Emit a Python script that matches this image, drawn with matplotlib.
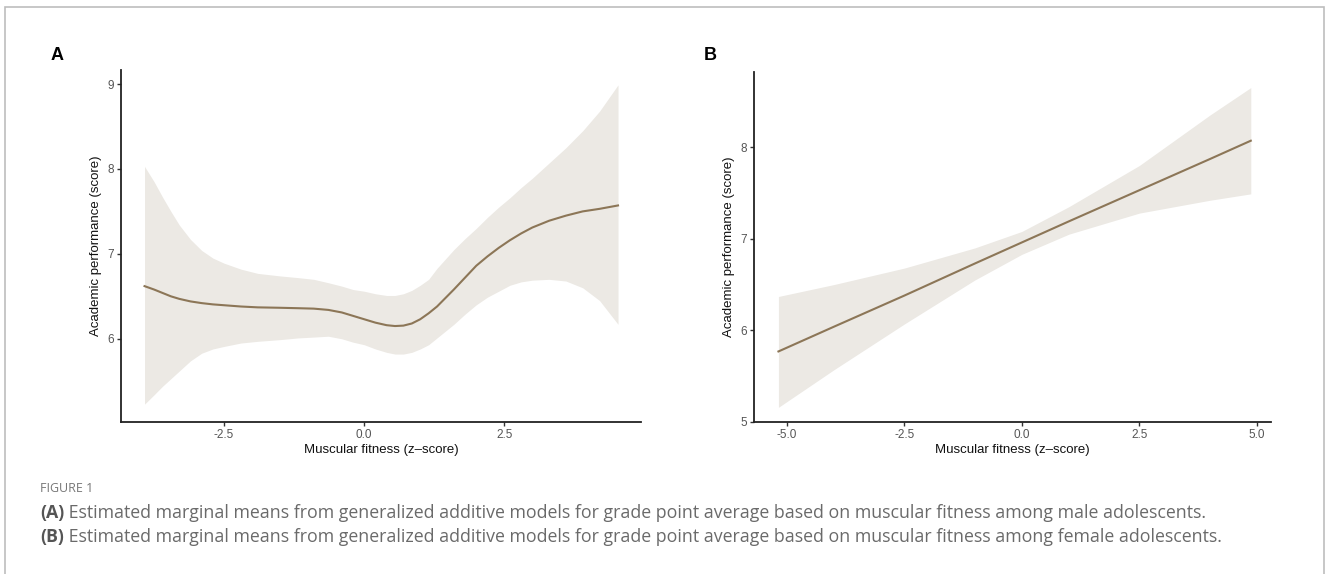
import numpy as np
import matplotlib
matplotlib.use("Agg")
import matplotlib.pyplot as plt
from matplotlib.patches import Rectangle

# Panel A: male adolescents (GAM smooth)
xa = [-3.92, -3.75, -3.6, -3.45, -3.3, -3.1, -2.9, -2.7, -2.5, -2.2, -1.9, -1.5,
      -1.18, -0.9, -0.64, -0.4, -0.2, 0.0, 0.2, 0.4, 0.55, 0.7, 0.85, 1.0, 1.15,
      1.3, 1.45, 1.6, 1.8, 2.0, 2.2, 2.4, 2.6, 2.8, 3.0, 3.3, 3.6, 3.9, 4.2, 4.53]
fit_a = [6.62, 6.58, 6.54, 6.50, 6.47, 6.44, 6.42, 6.405, 6.395, 6.38, 6.37, 6.365,
         6.36, 6.355, 6.34, 6.31, 6.27, 6.23, 6.19, 6.16, 6.15, 6.155, 6.18, 6.23, 6.30,
         6.38, 6.48, 6.58, 6.72, 6.86, 6.97, 7.07, 7.16, 7.24, 7.31, 7.39, 7.45, 7.50, 7.53, 7.57]
upper_a = [8.03, 7.85, 7.67, 7.50, 7.34, 7.17, 7.04, 6.95, 6.89, 6.82, 6.77, 6.74,
           6.72, 6.70, 6.66, 6.62, 6.58, 6.56, 6.53, 6.51, 6.51, 6.53, 6.57, 6.63, 6.70,
           6.83, 6.94, 7.05, 7.18, 7.30, 7.43, 7.55, 7.66, 7.78, 7.89, 8.07, 8.25, 8.45, 8.68, 8.99]
lower_a = [5.23, 5.34, 5.44, 5.53, 5.62, 5.74, 5.83, 5.88, 5.91, 5.95, 5.97, 5.99,
           6.01, 6.02, 6.03, 6.00, 5.96, 5.93, 5.88, 5.84, 5.82, 5.82, 5.84, 5.88, 5.93,
           6.01, 6.09, 6.17, 6.29, 6.40, 6.49, 6.56, 6.63, 6.67, 6.69, 6.70, 6.68, 6.60, 6.45, 6.17]

# Panel B: female adolescents (linear)
xb = [-5.18, -4.0, -2.5, -1.0, 0.0, 1.0, 2.5, 4.0, 4.87]
fit_b = [5.77, 6.04, 6.38, 6.73, 6.96, 7.19, 7.53, 7.87, 8.07]
upper_b = [6.37, 6.50, 6.68, 6.90, 7.08, 7.35, 7.80, 8.35, 8.65]
lower_b = [5.16, 5.57, 6.07, 6.55, 6.83, 7.05, 7.28, 7.42, 7.49]

xticks_a = [-2.5, 0.0, 2.5]
yticks_a = [6, 7, 8, 9]
xticks_b = [-5.0, -2.5, 0.0, 2.5, 5.0]
yticks_b = [5, 6, 7, 8]

band_col = "#ECE9E4"
line_col = "#8C7657"
chart_font = ["Liberation Sans Narrow", "Liberation Sans", "DejaVu Sans"]

W, H = 1330, 574
fig = plt.figure(figsize=(W / 100, H / 100), dpi=100)

# outer frame
fig.patches.append(Rectangle((5 / W, -0.05), (1324 - 5) / W, 1.05 - 7 / H,
                             transform=fig.transFigure, fill=False,
                             edgecolor="#bdbdbd", linewidth=1.2))


def make_panel(rect, x, fit, lo, hi, xlim, ylim, xt, yt):
    ax = fig.add_axes(rect)
    ax.fill_between(x, lo, hi, color=band_col, linewidth=0)
    ax.plot(x, fit, color=line_col, linewidth=1.5)
    ax.set_xlim(*xlim)
    ax.set_ylim(*ylim)
    ax.set_xticks(xt)
    ax.set_xticklabels([f"{v:.1f}" for v in xt])
    ax.set_yticks(yt)
    ax.set_yticklabels([str(v) for v in yt])
    for s in ["top", "right"]:
        ax.spines[s].set_visible(False)
    for s in ["left", "bottom"]:
        ax.spines[s].set_linewidth(1.3)
        ax.spines[s].set_color("#222222")
    ax.tick_params(length=3, width=1, color="#333333", labelcolor="#555555",
                   labelsize=8.5, pad=2)
    for lab in ax.get_xticklabels() + ax.get_yticklabels():
        lab.set_family(chart_font)
    ax.set_xlabel("Muscular fitness (z\u2013score)", fontsize=9.5, family=chart_font,
                  labelpad=2, color="#111111")
    ax.set_ylabel("Academic performance (score)", fontsize=9.5, family=chart_font,
                  labelpad=4, color="#111111")
    return ax


make_panel([121 / W, 1 - 422 / H, 520 / W, 352 / H], xa, fit_a, lower_a, upper_a,
           (-4.34, 4.94), (5.02, 9.165), xticks_a, yticks_a)
make_panel([754 / W, 1 - 422 / H, 517 / W, 350 / H], xb, fit_b, lower_b, upper_b,
           (-5.70, 5.30), (5.0, 8.82), xticks_b, yticks_b)

fig.text(51 / W, 1 - 55 / H, "A", fontsize=13, fontweight="bold", va="center",
         family=["Liberation Sans", "DejaVu Sans"])
fig.text(704 / W, 1 - 55 / H, "B", fontsize=13, fontweight="bold", va="center",
         family=["Liberation Sans", "DejaVu Sans"])

# caption
cap_font = ["Open Sans", "DejaVu Sans"]
fig.text(40 / W, 1 - 489 / H, "FIGURE 1", fontsize=9, color="#777777",
         va="center", family=cap_font)
captions = [
    ("(A)", " Estimated marginal means from generalized additive models for grade point average based on muscular fitness among male adolescents."),
    ("(B)", " Estimated marginal means from generalized additive models for grade point average based on muscular fitness among female adolescents."),
]
renderer = fig.canvas.get_renderer()
for i, (tag, body) in enumerate(captions):
    y = 1 - (513 + 24 * i) / H
    t = fig.text(40 / W, y, tag, fontsize=12.8, color="#555555", va="center",
                 fontweight="bold", family=cap_font)
    bb = t.get_window_extent(renderer)
    fig.text(bb.x1 / W, y, body, fontsize=12.8, color="#6a6a6a", va="center",
             family=cap_font)

fig.savefig("out.png", dpi=100)
